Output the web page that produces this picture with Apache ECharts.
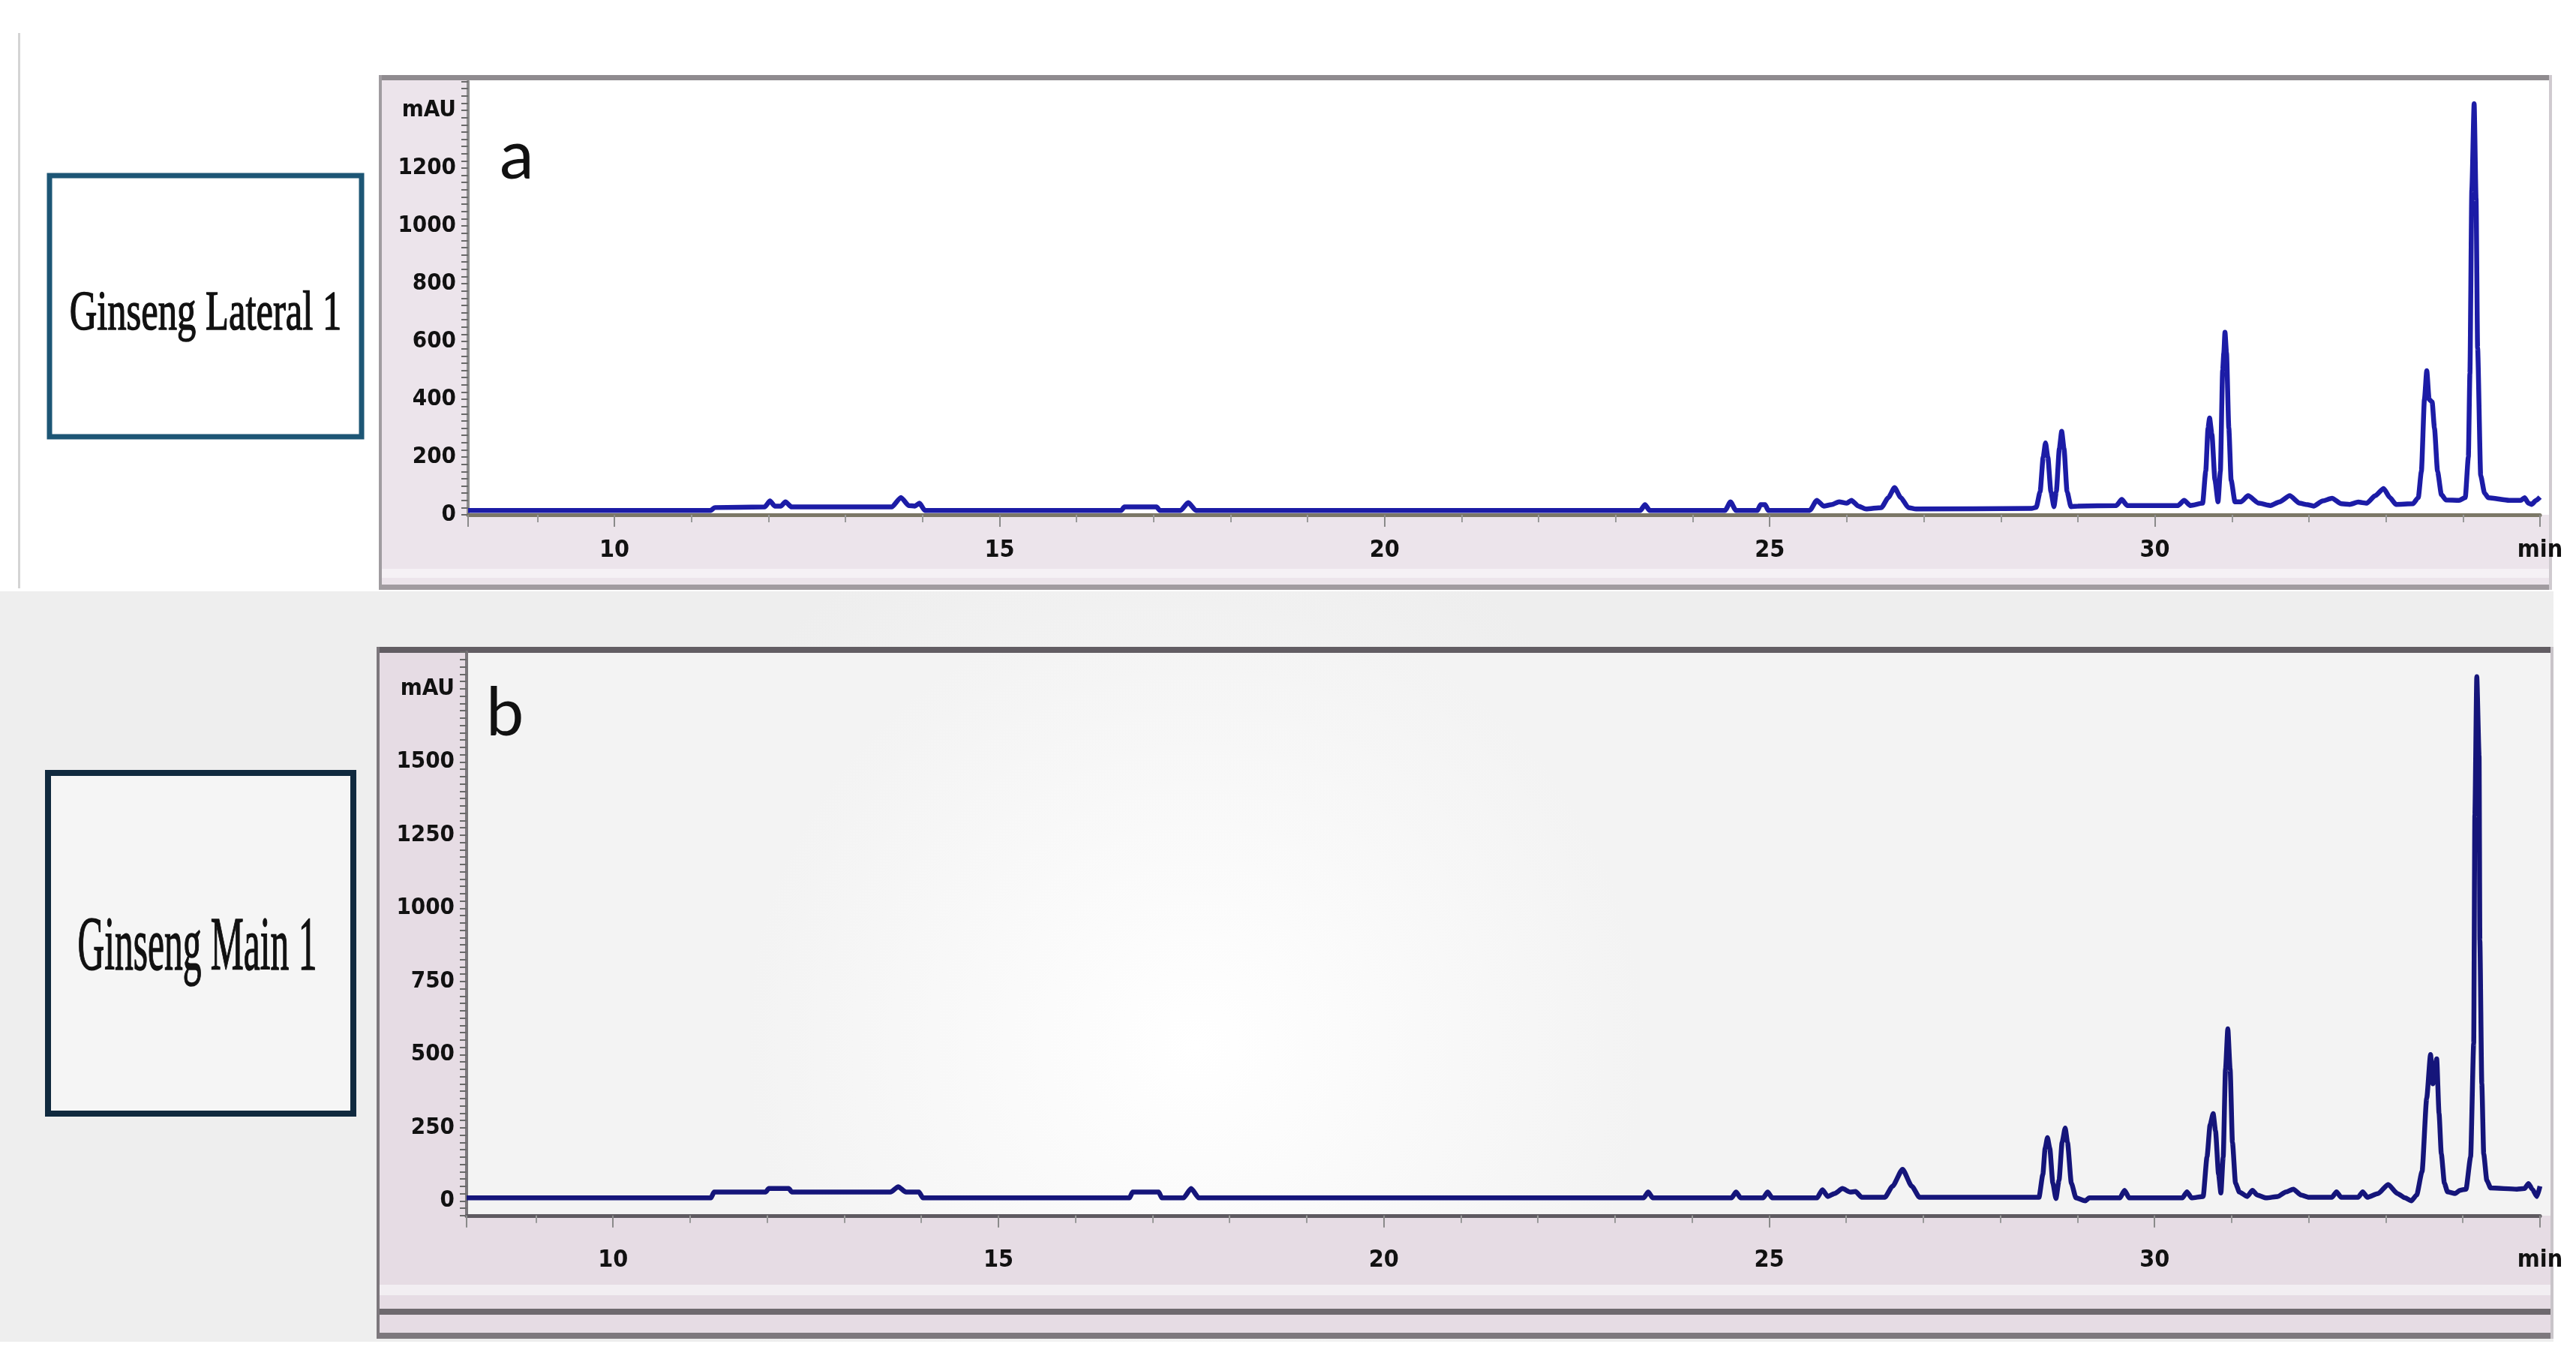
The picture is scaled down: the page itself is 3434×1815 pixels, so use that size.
<!DOCTYPE html>
<html>
<head>
<meta charset="utf-8">
<script src="https://cdn.jsdelivr.net/npm/echarts/dist/echarts.min.js"></script>
<style>
  html, body { margin: 0; padding: 0; background: #ffffff; }
  #container { width: 3434px; height: 1815px; }
</style>
</head>
<body>
<div id="container"></div>
<script>
// retention time (min) and absorbance (mAU)
var timesA = [8.1, 11.25, 11.3, 11.95, 12.02, 12.08, 12.16, 12.22, 12.3, 13.6, 13.72, 13.82, 13.9, 13.96, 14.03,
    16.58, 16.62, 17.04, 17.08, 17.35, 17.45, 17.55, 23.32, 23.38, 23.44, 24.42, 24.49, 24.56,
    24.84, 24.88, 24.94, 24.98, 25.52, 25.61, 25.7, 25.8, 25.9, 26.0, 26.06, 26.15, 26.25, 26.45,
    26.54, 26.62, 26.7, 26.8, 26.9, 28.4, 28.46, 28.51, 28.55, 28.58, 28.61, 28.65, 28.69, 28.72,
    28.76, 28.79, 28.82, 28.86, 28.91, 29.0, 29.5, 29.57, 29.64, 30.3, 30.38, 30.46, 30.62, 30.66,
    30.69, 30.71, 30.74, 30.78, 30.82, 30.85, 30.88, 30.895, 30.91, 30.93, 30.96, 30.99, 31.04,
    31.12, 31.21, 31.35, 31.5, 31.62, 31.75, 31.88, 31.98, 32.06, 32.18, 32.3, 32.42, 32.53, 32.64,
    32.75, 32.86, 32.97, 33.05, 33.13, 33.35, 33.42, 33.46, 33.5, 33.53, 33.56, 33.6, 33.63, 33.67,
    33.72, 33.78, 33.95, 34.03, 34.07, 34.09, 34.115, 34.145, 34.17, 34.19, 34.23, 34.28, 34.33,
    34.6, 34.75, 34.8, 34.85, 34.89, 34.95, 35.0];
var valuesA = [15, 15, 25, 27, 48, 30, 30, 45, 27, 27, 60, 32, 30, 40, 15,
    15, 27, 27, 15, 15, 42, 15, 15, 35, 15, 15, 45, 15,
    15, 35, 35, 15, 15, 50, 30, 35, 45, 40, 50, 30, 20, 25,
    60, 94, 60, 25, 20, 22, 26, 80, 200, 249, 200, 80, 28, 80,
    230, 289, 230, 80, 28, 30, 32, 53, 32, 32, 50, 32, 40, 150,
    300, 335, 280, 120, 45, 150, 500, 560, 632, 560, 300, 120, 45,
    45, 66, 40, 32, 45, 66, 40, 35, 30, 48, 57, 38, 36, 44,
    40, 66, 91, 60, 36, 38, 60, 150, 400, 499, 400, 390, 300, 150,
    70, 51, 50, 60, 200, 488, 1125, 1423, 1094, 578, 136, 75, 59,
    50, 50, 59, 40, 36, 50, 61];

var timesB = [8.1, 11.27, 11.31, 11.98, 12.02, 12.28, 12.32, 13.6, 13.7, 13.8, 13.97, 14.02,
    16.7, 16.74, 17.08, 17.12, 17.4, 17.5, 17.6, 23.37, 23.43, 23.49, 24.51, 24.57, 24.63,
    24.92, 24.98, 25.04, 25.62, 25.69, 25.76, 25.85, 25.95, 26.05, 26.12, 26.2, 26.5, 26.6,
    26.73, 26.85, 26.95, 28.45, 28.5, 28.55, 28.58, 28.61, 28.64, 28.68, 28.72, 28.76, 28.8,
    28.84, 28.87, 28.92, 28.98, 29.1, 29.15, 29.55, 29.61, 29.67, 30.36, 30.42, 30.48, 30.63,
    30.68, 30.72, 30.76, 30.79, 30.83, 30.86, 30.89, 30.92, 30.95, 30.98, 31.01, 31.05, 31.1,
    31.2, 31.27, 31.33, 31.45, 31.6, 31.7, 31.8, 31.9, 32.0, 32.3, 32.36, 32.42, 32.64, 32.7,
    32.76, 32.9, 33.03, 33.15, 33.25, 33.33, 33.4, 33.47, 33.53, 33.58, 33.61, 33.66, 33.69,
    33.72, 33.76, 33.8, 33.9, 33.96, 34.04, 34.1, 34.14, 34.155, 34.18, 34.21, 34.22, 34.245,
    34.27, 34.31, 34.36, 34.7, 34.8, 34.85, 34.9, 34.96, 35.0];
var valuesB = [10, 10, 30, 30, 42, 42, 30, 30, 48, 30, 30, 10,
    10, 30, 30, 10, 10, 42, 10, 10, 30, 10, 10, 30, 10,
    10, 30, 10, 10, 38, 15, 25, 42, 30, 32, 12, 12, 50,
    108, 50, 12, 12, 12, 90, 180, 216, 180, 60, 8, 70, 200,
    249, 200, 60, 10, 0, 10, 10, 36, 10, 10, 31, 10, 15,
    150, 260, 298, 240, 90, 27, 150, 450, 588, 450, 200, 60, 30,
    15, 36, 20, 10, 15, 30, 40, 20, 12, 12, 31, 12, 12, 31,
    12, 25, 56, 25, 10, 0, 20, 100, 350, 500, 400, 485, 300,
    160, 60, 31, 25, 36, 40, 150, 538, 1318, 1791, 1520, 890, 400,
    160, 70, 44, 40, 42, 59, 40, 15, 50];

var panelLetters = ['a', 'b'];
var sampleNames = ['Ginseng Lateral 1', 'Ginseng Main 1'];
var yLabelStepA = 200;
var yLabelStepB = 250;
var yUnitA = 1400;
var yUnitB = 1750;

function zip(t, v) {
    return t.map(function (x, i) { return [x, v[i]]; });
}

var tickFont = "'Liberation Sans Narrow','DejaVu Sans Condensed','Liberation Sans',Arial,sans-serif";

function xAxisFor(idx, margin, lineColor) {
    return {
        gridIndex: idx,
        type: 'value',
        min: 8.1,
        max: 35,
        splitNumber: 5,
        axisLine: { show: true, onZero: false, lineStyle: { color: lineColor, width: 5 } },
        axisTick: { show: true, length: 16, lineStyle: { color: '#8a8a8a', width: 2 } },
        minorTick: { show: true, splitNumber: 5, length: 10, lineStyle: { color: '#9a9a9a', width: 2 } },
        splitLine: { show: false },
        minorSplitLine: { show: false },
        axisLabel: {
            margin: margin,
            fontSize: 32,
            fontWeight: 'bold',
            fontFamily: tickFont,
            color: '#111111',
            showMinLabel: true,
            showMaxLabel: true,
            formatter: function (v) {
                if (Math.abs(v - 35) < 1e-6) return 'min';
                return (Math.abs(v % 5) < 1e-6) ? String(v) : '';
            }
        }
    };
}

function yAxisFor(idx, min, max, step, unitAt, lineColor) {
    return {
        gridIndex: idx,
        type: 'value',
        min: min,
        max: max,
        interval: 25,
        axisLine: { show: true, lineStyle: { color: lineColor, width: 4 } },
        axisTick: { show: true, length: 9, lineStyle: { color: '#6a6a6a', width: 2 } },
        splitLine: { show: false },
        axisLabel: {
            margin: 16,
            fontSize: 31,
            fontWeight: 'bold',
            fontFamily: tickFont,
            color: '#111111',
            formatter: function (v) {
                if (v === unitAt) return 'mAU';
                if (v >= 0 && v % step === 0 && v < unitAt) return String(v);
                return '';
            }
        }
    };
}

var chartDom = document.getElementById('container');
var myChart = echarts.init(chartDom, null, { width: 3434, height: 1815 });

var option = {
    animation: false,
    backgroundColor: '#ffffff',
    graphic: [
        // lower half backdrop
        { type: 'rect', z: -20, shape: { x: 0, y: 788, width: 3434, height: 1000 },
          style: { fill: { type: 'radial', x: 0.45, y: 0.55, r: 0.7,
              colorStops: [{ offset: 0, color: '#fbfbfb' }, { offset: 1, color: '#eeeeee' }] } } },
        { type: 'rect', z: -20, shape: { x: 0, y: 1788, width: 3434, height: 30 }, style: { fill: '#ffffff' } },
        { type: 'rect', z: -19, shape: { x: 24, y: 44, width: 3, height: 740 }, style: { fill: '#d4d4d4' } },
        { type: 'rect', z: -19, shape: { x: 3404, y: 0, width: 30, height: 1815 }, style: { fill: '#ffffff' } },

        // frame of panel a
        { type: 'rect', z: -18, shape: { x: 507, y: 102, width: 2895, height: 684 }, style: { fill: '#ece4eb' } },
        { type: 'rect', z: -17, shape: { x: 507, y: 758, width: 2895, height: 12 }, style: { fill: '#f5f1f5' } },
        { type: 'rect', z: -17, shape: { x: 505, y: 779, width: 2897, height: 7 }, style: { fill: '#a19ba0' } },
        { type: 'rect', z: -17, shape: { x: 505, y: 100, width: 2897, height: 7 }, style: { fill: '#8f8b8f' } },
        { type: 'rect', z: -17, shape: { x: 505, y: 100, width: 4, height: 686 }, style: { fill: '#a09ca0' } },
        { type: 'rect', z: -17, shape: { x: 3398, y: 100, width: 4, height: 686 }, style: { fill: '#cfcacf' } },
        { type: 'rect', z: -16, shape: { x: 624, y: 107, width: 2774, height: 579 }, style: { fill: '#ffffff' } },

        // frame of panel b
        { type: 'rect', z: -18, shape: { x: 504, y: 864, width: 2900, height: 920 }, style: { fill: '#e6dce4' } },
        { type: 'rect', z: -17, shape: { x: 504, y: 1712, width: 2900, height: 14 }, style: { fill: '#f2eef2' } },
        { type: 'rect', z: -17, shape: { x: 502, y: 1744, width: 2902, height: 8 }, style: { fill: '#6e696e' } },
        { type: 'rect', z: -17, shape: { x: 502, y: 1776, width: 2902, height: 8 }, style: { fill: '#7d787d' } },
        { type: 'rect', z: -17, shape: { x: 502, y: 862, width: 2902, height: 8 }, style: { fill: '#625d63' } },
        { type: 'rect', z: -17, shape: { x: 502, y: 862, width: 4, height: 922 }, style: { fill: '#7c777c' } },
        { type: 'rect', z: -17, shape: { x: 3400, y: 862, width: 4, height: 922 }, style: { fill: '#c9c4c9' } },
        { type: 'rect', z: -16, shape: { x: 622, y: 870, width: 2778, height: 750 },
          style: { fill: { type: 'radial', x: 0.35, y: 0.7, r: 0.8,
              colorStops: [{ offset: 0, color: '#ffffff' }, { offset: 1, color: '#f3f3f3' }] } } },

        // sample boxes
        { type: 'rect', z: 5, shape: { x: 66, y: 234, width: 416, height: 348 },
          style: { fill: '#ffffff', stroke: '#1d5675', lineWidth: 7 } },
        { type: 'rect', z: 5, shape: { x: 64, y: 1030, width: 407, height: 454 },
          style: { fill: '#f5f5f5', stroke: '#10293e', lineWidth: 8 } },
        { type: 'text', z: 6, x: 274, y: 419, scaleX: 0.675,
          style: { text: sampleNames[0], font: "75px 'Liberation Serif','DejaVu Serif',serif",
              fill: '#111111', stroke: '#111111', lineWidth: 1.5,
              align: 'center', verticalAlign: 'middle' } },
        { type: 'text', z: 6, x: 263, y: 1265, scaleX: 0.49,
          style: { text: sampleNames[1], font: "101px 'Liberation Serif','DejaVu Serif',serif",
              fill: '#111111', stroke: '#111111', lineWidth: 1.5,
              align: 'center', verticalAlign: 'middle' } },

        // panel letters
        { type: 'text', z: 6, x: 666, y: 208,
          style: { text: panelLetters[0], font: "92px Lato,'Noto Sans',sans-serif", fill: '#111111',
              align: 'left', verticalAlign: 'middle' } },
        { type: 'text', z: 6, x: 648, y: 951,
          style: { text: panelLetters[1], font: "90px Lato,'Noto Sans',sans-serif", fill: '#111111',
              align: 'left', verticalAlign: 'middle' } }
    ],
    grid: [
        { left: 624, top: 108.5, width: 2762, height: 577.5, containLabel: false },
        { left: 622, top: 869, width: 2764, height: 750.75, containLabel: false }
    ],
    xAxis: [
        xAxisFor(0, 32, '#7b7766'),
        xAxisFor(1, 44, '#5e5a60')
    ],
    yAxis: [
        yAxisFor(0, 0, 1500, yLabelStepA, yUnitA, '#8c8c8c'),
        yAxisFor(1, -50, 1875, yLabelStepB, yUnitB, '#7a767a')
    ],
    series: [
        {
            name: sampleNames[0],
            type: 'line',
            xAxisIndex: 0,
            yAxisIndex: 0,
            showSymbol: false,
            smooth: 0.2,
            smoothMonotone: 'x',
            lineStyle: { color: '#1c1ca6', width: 6.5 },
            data: zip(timesA, valuesA)
        },
        {
            name: sampleNames[1],
            type: 'line',
            xAxisIndex: 1,
            yAxisIndex: 1,
            showSymbol: false,
            smooth: 0.2,
            smoothMonotone: 'x',
            lineStyle: { color: '#15157a', width: 6.5 },
            data: zip(timesB, valuesB)
        }
    ]
};

option && myChart.setOption(option);
</script>
</body>
</html>
